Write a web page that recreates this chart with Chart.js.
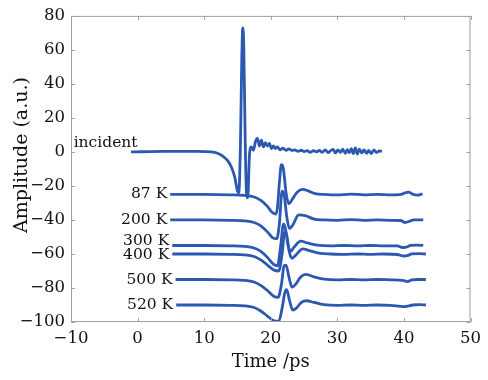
<html>

<head>
    <title>Transmitted THz pulses</title>
    <script src="https://cdn.jsdelivr.net/npm/chart.js"></script>
    <style>
        body { margin: 0; background: white; }
    </style>
</head>

<body>
    <div>
        <canvas id="myChart" width="488" height="380"></canvas>
    </div>

    <script>
        // axis ticks
        const xTicks = [-10, 0, 10, 20, 30, 40, 50];
        const yTicks = [-100, -80, -60, -40, -20, 0, 20, 40, 60, 80];

        // incident pulse
        const incT = [-1, 4, 9, 11, 12, 12.8, 13.5, 14.1, 14.6, 15.0, 15.2, 15.45, 15.65, 15.8, 15.95, 16.15, 16.35, 16.55, 16.8, 17.1,
            17.4, 17.7, 18.0, 18.3, 18.6, 18.9, 19.2, 19.5, 19.8, 20.1, 20.4, 20.7, 21.0, 21.4, 21.8, 22.3, 22.7, 23.2, 23.6, 24.1,
            24.6, 25.0, 25.5, 25.9, 26.4, 26.9, 27.3, 27.7, 28.2, 28.6, 29.0, 29.4, 29.7, 30.1, 30.5, 30.8, 31.2, 31.5, 31.8, 32.1,
            32.4, 32.7, 33.0, 33.3, 33.7, 34.0, 34.4, 34.7, 35.1, 35.5, 35.9, 36.3, 36.7];
        const incA = [0, 0.3, 0.3, 0, -0.8, -2.5, -5, -9, -15, -23, -24, 5, 55, 73, 62, 10, -24, -27, -2, 3,
            1, 6, 8, 3.5, 7, 3, 5.5, 3.5, 5, 2, 3.5, 2, 3, 1.2, 2.2, 1, 1.8, 0.8, 1.2, 0.3,
            1, 0.2, 0.8, -0.3, 0.7, 0, 0.9, -0.2, 1.2, -0.4, 0.8, 1.5, -0.6, 1.2, -0.3, 1.6, -0.8, 1.4, -0.5, 2,
            -1, 2.4, -1.2, 1.6, -0.6, 1.2, -0.8, 0.9, -1, 1.2, -0.3, 0.6, 0.3];

        // transmitted pulses (offset per temperature)
        const t87 = [4.9, 10, 14, 16, 17.5, 18.5, 19.5, 20.2, 20.7, 21.0, 21.3, 21.6, 21.9, 22.3, 22.7, 23.2, 24.0, 24.8, 25.7, 26.7,
            28, 30, 32, 34, 36, 38, 39.6, 40.2, 40.7, 41.3, 42, 42.8];
        const a87 = [-25, -25, -25.2, -25.5, -26.5, -28.5, -32, -35.5, -36.5, -33, -18, -7.5, -10, -24, -30.5, -28, -23.5, -22, -23, -24.5,
            -25, -25.3, -24.8, -25.2, -25, -25.3, -25, -24, -23.6, -24.8, -25.4, -24.6];

        const t200 = [4.9, 10, 14, 16, 17.5, 18.5, 19.5, 20.3, 20.9, 21.3, 21.7, 22.0, 22.4, 22.8, 23.3, 24.2, 25.2, 26.5, 28, 30,
            32, 34, 36, 38, 39.5, 40.2, 40.8, 41.5, 42.9];
        const a200 = [-40, -40, -40.2, -40.5, -41.5, -43.5, -47, -50.5, -51, -42, -23, -25, -38, -45, -43, -37, -37.5, -39.5, -40, -40.2,
            -39.8, -40.2, -40, -40.2, -40.3, -41.5, -40.8, -40, -40];

        const t300 = [5.2, 10, 14, 16, 17.5, 18.5, 19.5, 20.4, 21.0, 21.5, 21.9, 22.2, 22.6, 23.0, 23.5, 24.5, 25.5, 27, 29, 31,
            33, 35, 37, 39, 39.8, 40.4, 41, 42, 42.9];
        const a300 = [-55, -55, -55.2, -55.5, -56.5, -58.5, -62, -66, -67, -55, -42.5, -45, -55, -58.5, -56, -52.5, -53.5, -54.8, -55.2, -55,
            -55.2, -55, -55.2, -55.2, -56.2, -56, -55, -54.8, -55];

        const t400 = [5.2, 10, 14, 16, 17.5, 18.5, 19.5, 20.5, 21.2, 21.7, 22.1, 22.4, 22.8, 23.2, 23.8, 24.8, 25.8, 27.5, 29, 31,
            33, 35, 37, 39, 40, 40.5, 41.2, 42.2, 43.3];
        const a400 = [-60, -60, -60.2, -60.5, -61.5, -63.5, -66.5, -69.5, -70, -60, -47, -49, -59, -62.5, -60.5, -57, -58, -59.7, -60, -60.2,
            -60, -60.2, -60, -60.3, -61.2, -61, -60, -59.8, -60];

        const t500 = [5.7, 10, 14, 16, 17.5, 18.5, 19.5, 20.5, 21.1, 21.6, 22.0, 22.3, 22.7, 23.2, 23.7, 24.5, 25.3, 26.5, 28, 30,
            32, 34, 36, 38, 39.8, 40.5, 41.2, 42.2, 43.3];
        const a500 = [-75, -75, -75.2, -75.5, -76.5, -78.5, -81.5, -85, -85.5, -78, -67, -66.5, -73, -79.5, -78, -73.5, -72, -73.5, -74.8, -75.2,
            -75, -75.2, -75, -75.2, -75.5, -76.2, -75.3, -75, -75];

        const t520 = [5.8, 10, 14, 16, 17.5, 18.5, 19.5, 20.5, 21.2, 21.7, 22.1, 22.4, 22.8, 23.3, 23.8, 24.6, 25.4, 26.5, 28, 30,
            32, 34, 36, 38, 40, 40.6, 41.3, 42.3, 43.3];
        const a520 = [-90, -90, -90.2, -90.5, -91.5, -93.5, -96.5, -99.3, -99.6, -92, -83, -81, -87, -93, -92, -88.5, -87.5, -88.5, -89.8, -90.2,
            -90, -90.2, -90, -90.2, -91, -90.7, -90, -89.8, -90];

        const tempLabels = ['87 K', '200 K', '300 K', '400 K', '500 K', '520 K'];
        const labelNudge = [0, 0, 2.5, -0.5, 0, 0];

        const blue = '#2b58b0';
        const serif = "'DejaVu Serif', serif";

        function pts(t, a) {
            return t.map((v, i) => ({ x: v, y: a[i] }));
        }

        const series = [
            ['incident', incT, incA],
            [tempLabels[0], t87, a87],
            [tempLabels[1], t200, a200],
            [tempLabels[2], t300, a300],
            [tempLabels[3], t400, a400],
            [tempLabels[4], t500, a500],
            [tempLabels[5], t520, a520],
        ];

        const data = {
            datasets: series.map(s => ({
                label: s[0],
                data: pts(s[1], s[2]),
                borderColor: blue,
                borderWidth: 2.8,
                pointRadius: 0,
                cubicInterpolationMode: 'monotone',
                fill: false
            }))
        };

        // frame, inward ticks, curve labels, y title
        const decor = {
            id: 'decor',
            afterDraw(chart) {
                const ctx = chart.ctx;
                const a = chart.chartArea;
                const xs = chart.scales.x, ys = chart.scales.y;
                ctx.save();
                ctx.strokeStyle = '#a0a0a0';
                ctx.lineWidth = 1;
                ctx.strokeRect(a.left + 0.5, a.top + 0.5, a.right - a.left - 1, a.bottom - a.top - 1);
                ctx.beginPath();
                xTicks.forEach(v => {
                    const px = Math.round(xs.getPixelForValue(v)) + 0.5;
                    ctx.moveTo(px, a.bottom); ctx.lineTo(px, a.bottom - 4);
                    ctx.moveTo(px, a.top); ctx.lineTo(px, a.top + 4);
                });
                yTicks.forEach(v => {
                    const py = Math.round(ys.getPixelForValue(v)) + 0.5;
                    ctx.moveTo(a.left, py); ctx.lineTo(a.left + 4, py);
                    ctx.moveTo(a.right, py); ctx.lineTo(a.right - 4, py);
                });
                ctx.stroke();

                ctx.fillStyle = '#111';
                ctx.font = '15.5px ' + serif;
                ctx.textBaseline = 'middle';
                ctx.textAlign = 'left';
                ctx.fillText('incident', xs.getPixelForValue(-9.6), ys.getPixelForValue(incA[0] + 5));
                ctx.textAlign = 'right';
                series.slice(1).forEach((s, i) => {
                    const x0 = s[1][0], y0 = s[2][0];
                    ctx.fillText(s[0], xs.getPixelForValue(x0) - 3, ys.getPixelForValue(y0 + labelNudge[i]));
                });

                ctx.font = '19px ' + serif;
                ctx.textAlign = 'center';
                ctx.translate(22, 155);
                ctx.rotate(-Math.PI / 2);
                ctx.fillText('Amplitude (a.u.)', 0, 0);
                ctx.restore();
            }
        };

        const config = {
            type: 'line',
            data: data,
            options: {
                responsive: false,
                animation: false,
                layout: { padding: { top: 11, right: 13, left: 0, bottom: 0 } },
                plugins: {
                    legend: { display: false },
                    tooltip: { enabled: false }
                },
                scales: {
                    x: {
                        type: 'linear',
                        min: -10,
                        max: 50,
                        afterFit: s => { s.height = 58; },
                        afterBuildTicks: s => { s.ticks = xTicks.map(v => ({ value: v })); },
                        grid: { display: false, drawTicks: false },
                        border: { display: false },
                        ticks: {
                            padding: 7,
                            color: '#111',
                            font: { family: serif, size: 16.5 },
                            callback: v => String(v).replace('-', '\u2212')
                        },
                        title: {
                            display: true,
                            text: 'Time /ps',
                            color: '#111',
                            font: { family: serif, size: 18 },
                            padding: { top: 0, bottom: 6.5 }
                        }
                    },
                    y: {
                        type: 'linear',
                        min: -100,
                        max: 80,
                        afterFit: s => { s.width = 71; },
                        afterBuildTicks: s => { s.ticks = yTicks.map(v => ({ value: v })); },
                        grid: { display: false, drawTicks: false },
                        border: { display: false },
                        ticks: {
                            padding: 6,
                            color: '#111',
                            font: { family: serif, size: 16.5 },
                            callback: v => String(v).replace('-', '\u2212')
                        }
                    }
                }
            },
            plugins: [decor]
        };

        const myChart = new Chart(document.getElementById('myChart'), config);
    </script>

</body>

</html>
